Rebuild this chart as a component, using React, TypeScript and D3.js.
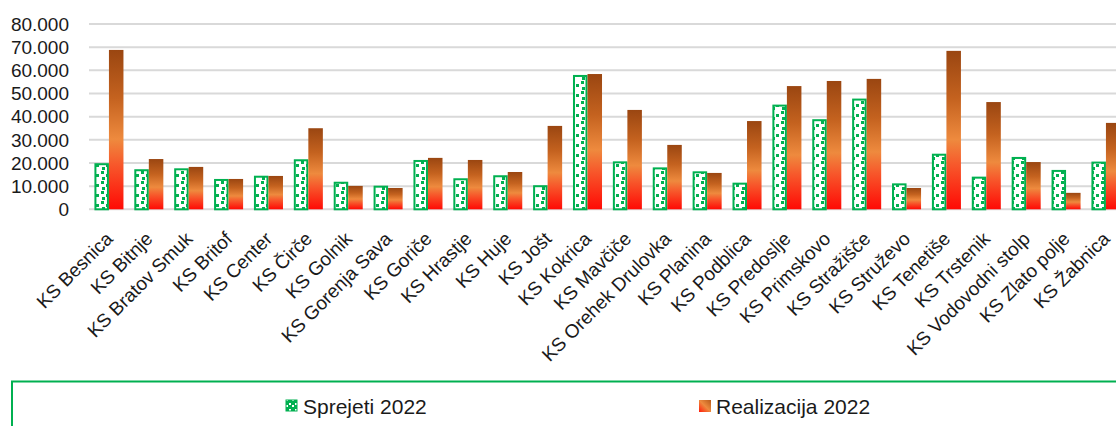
import React from "react";
import * as d3 from "d3";

const categories = [
  "KS Besnica", "KS Bitnje", "KS Bratov Smuk", "KS Britof", "KS Center", "KS Čirče",
  "KS Golnik", "KS Gorenja Sava", "KS Goriče", "KS Hrastje", "KS Huje", "KS Jošt",
  "KS Kokrica", "KS Mavčiče", "KS Orehek Drulovka", "KS Planina", "KS Podblica",
  "KS Predoslje", "KS Primskovo", "KS Stražišče", "KS Struževo", "KS Tenetiše",
  "KS Trstenik", "KS Vodovodni stolp", "KS Zlato polje", "KS Žabnica",
];

const sprejeti2022 = [
  19900, 17300, 17700, 13100, 14500, 21600, 11900, 10200, 21300, 13400, 14700, 10400,
  58000, 20700, 18100, 16400, 11500, 45200, 38900, 47800, 11200, 24000, 14100, 22600,
  17000, 20600,
];

const realizacija2022 = [
  68800, 21700, 18300, 13100, 14400, 35000, 10100, 9200, 22200, 21300, 16100, 36000,
  58400, 42900, 27800, 15700, 38100, 53200, 55400, 56300, 9200, 68400, 46300, 20400,
  7100, 37300,
];

const yTicks = [0, 10000, 20000, 30000, 40000, 50000, 60000, 70000, 80000];
const seriesNames = ["Sprejeti 2022", "Realizacija 2022"];

const W = 1116;
const H = 426;
const FONT = "'Liberation Sans', Arial, sans-serif";

export default function App() {
  const bandW = 39.88;
  const x = d3
    .scaleBand<string>()
    .domain(categories)
    .range([89, 89 + categories.length * bandW])
    .padding(0);
  const y = d3.scaleLinear().domain([0, 80000]).range([209.3, 24]);
  const barW = x.bandwidth() * 0.364;

  const label = (v: number) => (v === 0 ? "0" : `${v / 1000}.000`);

  return (
    <svg
      width={W}
      height={H}
      style={{ position: "absolute", left: 0, top: 0, background: "#fff" }}
      fontFamily={FONT}
    >
      <defs>
        <pattern id="confetti" width="10" height="10" patternUnits="userSpaceOnUse">
          <rect width="10" height="10" fill="#ffffff" />
          <rect x="1" y="1" width="3" height="3" fill="#00B050" />
          <rect x="6" y="4" width="3" height="3" fill="#00B050" />
          <rect x="2" y="7" width="3" height="3" fill="#00B050" />
        </pattern>
        <pattern id="confettiLegend" width="6" height="6" patternUnits="userSpaceOnUse">
          <rect width="6" height="6" fill="#00B050" />
          <rect x="1" y="1" width="2" height="2" fill="#ffffff" />
          <rect x="4" y="3" width="2" height="2" fill="#ffffff" />
        </pattern>
        <linearGradient id="orangeGrad" x1="0" y1="0" x2="0" y2="1">
          <stop offset="0" stopColor="#9A4611" />
          <stop offset="0.3" stopColor="#C4621F" />
          <stop offset="0.56" stopColor="#EE8A3E" />
          <stop offset="0.72" stopColor="#F7582B" />
          <stop offset="1" stopColor="#FF0A05" />
        </linearGradient>
        <linearGradient id="orangeLegend" x1="1" y1="0" x2="0" y2="1">
          <stop offset="0" stopColor="#B85A1A" />
          <stop offset="0.5" stopColor="#EE8A3E" />
          <stop offset="1" stopColor="#FF1A0A" />
        </linearGradient>
      </defs>

      {yTicks.map((t) => (
        <line
          key={`g${t}`}
          x1={89}
          x2={W}
          y1={y(t)}
          y2={y(t)}
          stroke="#D9D9D9"
          strokeWidth={2}
        />
      ))}

      {yTicks.map((t) => (
        <text
          key={`t${t}`}
          x={69}
          y={y(t)}
          dy="0.36em"
          textAnchor="end"
          fontSize={19}
          fill="#1a1a1a"
        >
          {label(t)}
        </text>
      ))}

      {categories.map((c, i) => {
        const cx = (x(c) as number) + x.bandwidth() / 2;
        const gTop = y(sprejeti2022[i]);
        const oTop = y(realizacija2022[i]);
        return (
          <g key={c}>
            <rect
              x={cx - barW + 1}
              y={gTop + 1}
              width={barW - 2}
              height={y(0) - gTop - 1}
              fill="url(#confetti)"
              stroke="#00B050"
              strokeWidth={2}
            />
            <rect
              x={cx}
              y={oTop}
              width={barW}
              height={y(0) - oTop}
              fill="url(#orangeGrad)"
            />
          </g>
        );
      })}

      {categories.map((c) => {
        const cx = (x(c) as number) + x.bandwidth() / 2;
        return (
          <text
            key={`l${c}`}
            transform={`translate(${cx + 5},${240}) rotate(-45)`}
            textAnchor="end"
            fontSize={19}
            fill="#1a1a1a"
          >
            {c}
          </text>
        );
      })}

      <rect
        x={12}
        y={381.5}
        width={1200}
        height={100}
        fill="none"
        stroke="#00B050"
        strokeWidth={2}
      />
      <rect x={286} y={400} width={11} height={11} fill="url(#confettiLegend)" stroke="#00B050" strokeWidth={1} />
      <text x={303} y={414} fontSize={21} fill="#1a1a1a">
        {seriesNames[0]}
      </text>
      <rect x={699} y={400} width={12} height={12} fill="url(#orangeLegend)" />
      <text x={716} y={414} fontSize={21} fill="#1a1a1a">
        {seriesNames[1]}
      </text>
    </svg>
  );
}
